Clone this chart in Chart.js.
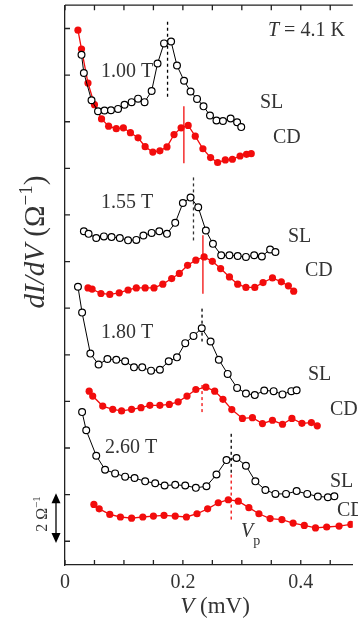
<!DOCTYPE html>
<html>
<head>
<meta charset="utf-8">
<script src="https://cdn.jsdelivr.net/npm/chart.js@4.4.1/dist/chart.umd.min.js"></script>
<style>
  html, body { margin: 0; padding: 0; background: #fff; }
  #wrap { width: 358px; height: 625px; }
</style>
</head>
<body>
<div id="wrap"><canvas id="grafico" width="358" height="625"></canvas></div>
<script>
// tensao (mV) e dI/dV com offset vertical, unidade = 1 Ohm^-1
const vSL100 = [0.028,0.032,0.045,0.056,0.067,0.078,0.090,0.101,0.113,0.124,0.135,0.147,0.157,0.168,0.180,0.190,0.202,0.213,0.224,0.235,0.246,0.257,0.268,0.281,0.292,0.299]
const gSL100 = [20.87,20.09,18.92,18.45,18.48,18.49,18.55,18.73,18.84,18.99,18.84,19.32,20.50,21.36,21.44,20.41,19.76,19.30,18.98,18.66,18.27,18.05,18.03,18.14,17.98,17.77]
const vCD100 = [0.022,0.028,0.039,0.050,0.062,0.074,0.087,0.099,0.111,0.124,0.136,0.149,0.161,0.173,0.185,0.197,0.209,0.221,0.234,0.247,0.259,0.272,0.284,0.297,0.308,0.316]
const gCD100 = [21.93,21.12,19.66,18.73,18.12,17.81,17.70,17.74,17.53,17.31,16.93,16.70,16.75,16.92,17.45,17.74,17.84,17.38,16.84,16.46,16.25,16.36,16.39,16.53,16.60,16.63]

const vSL155 = [0.032,0.040,0.053,0.066,0.079,0.093,0.107,0.121,0.133,0.147,0.160,0.173,0.187,0.200,0.213,0.226,0.239,0.251,0.265,0.279,0.293,0.307,0.321,0.334,0.348,0.357]
const gSL155 = [13.30,13.19,13.01,13.08,13.05,13.01,12.91,12.93,13.12,13.23,13.30,13.19,13.66,14.51,14.75,14.33,13.33,12.76,12.27,12.27,12.24,12.20,12.27,12.22,12.52,12.41]
const vCD155 = [0.039,0.046,0.061,0.076,0.092,0.107,0.121,0.136,0.151,0.166,0.181,0.194,0.208,0.222,0.236,0.250,0.264,0.279,0.293,0.307,0.322,0.336,0.352,0.367,0.379,0.388]
const gCD155 = [10.87,10.82,10.63,10.59,10.66,10.78,10.87,10.87,10.87,11.03,11.27,11.49,11.84,12.06,12.20,12.01,11.70,11.34,11.03,10.89,10.89,11.10,11.30,11.13,10.96,10.73]

const vSL180 = [0.022,0.029,0.043,0.057,0.072,0.087,0.102,0.117,0.131,0.146,0.161,0.176,0.190,0.204,0.218,0.232,0.247,0.261,0.276,0.292,0.307,0.322,0.338,0.354,0.369,0.384,0.393]
const gSL180 = [10.92,9.81,8.05,7.58,7.82,7.79,7.72,7.46,7.46,7.32,7.36,7.72,7.89,8.50,8.81,9.14,8.57,7.79,7.18,6.58,6.34,6.27,6.47,6.44,6.30,6.44,6.48]
const vCD180 = [0.041,0.047,0.064,0.081,0.096,0.113,0.129,0.144,0.161,0.177,0.192,0.207,0.222,0.239,0.254,0.268,0.283,0.301,0.318,0.335,0.352,0.369,0.385,0.402,0.418,0.428]
const gCD180 = [6.44,6.23,5.80,5.66,5.59,5.66,5.73,5.83,5.83,5.87,5.98,6.23,6.51,6.61,6.44,6.09,5.65,5.27,5.30,5.05,5.19,5.02,5.27,5.06,5.09,4.95]

const vSL260 = [0.029,0.036,0.053,0.068,0.085,0.102,0.118,0.136,0.153,0.169,0.187,0.204,0.222,0.240,0.257,0.274,0.291,0.307,0.323,0.340,0.357,0.375,0.393,0.411,0.429,0.446,0.457]
const gSL260 = [5.54,4.76,3.67,3.07,2.91,2.77,2.71,2.57,2.49,2.39,2.42,2.39,2.29,2.36,2.86,3.48,3.57,3.24,2.57,2.20,2.03,2.03,2.15,2.03,1.92,1.89,1.93]
const vCD260 = [0.049,0.058,0.076,0.094,0.113,0.132,0.150,0.168,0.187,0.206,0.224,0.242,0.260,0.277,0.294,0.312,0.329,0.348,0.368,0.387,0.406,0.425,0.444,0.465,0.485]
const gCD260 = [1.58,1.39,1.15,1.04,0.99,1.04,1.08,1.11,1.08,1.04,1.18,1.39,1.65,1.78,1.72,1.44,1.18,0.97,0.93,0.78,0.68,0.57,0.61,0.65,0.72]

// posicao de Vp e faixa vertical de cada marcador
const vpSL = [0.174, 0.218, 0.2325, 0.282]
const faixaSL = [[22.29, 18.95], [15.61, 12.78], [9.98, 8.57], [4.61, 2.94]]
const vpCD = [0.2017, 0.234, 0.2325, 0.282]
const faixaCD = [[18.66, 16.22], [13.13, 10.62], [6.70, 5.42], [2.86, 0.81]]
const campos = ['1.00 T', '1.55 T', '1.80 T', '2.60 T']

const xTicks = [0, 0.2, 0.4]

const serif = '"Liberation Serif", "DejaVu Serif", serif'
const vermelho = '#f20c0c'
const texto = '#333'

function serie(v, g) {
    return v.map((x, i) => ({ x: x, y: g[i] }))
}

function curvaSL(v, g) {
    return {
        data: serie(v, g), showLine: true,
        borderColor: '#000', borderWidth: 1,
        pointRadius: 3.4, pointBackgroundColor: '#fff',
        pointBorderColor: '#000', pointBorderWidth: 1.2
    }
}

function curvaCD(v, g) {
    return {
        data: serie(v, g), showLine: true,
        borderColor: vermelho, borderWidth: 1.3,
        pointRadius: 3.6, pointBackgroundColor: vermelho,
        pointBorderColor: vermelho, pointBorderWidth: 0
    }
}

function marcador(x, faixa, cor, tracejado) {
    return {
        data: [{ x: x, y: faixa[0] }, { x: x, y: faixa[1] }], showLine: true,
        borderColor: cor, borderWidth: 1.3, pointRadius: 0,
        borderDash: tracejado ? [3, 3] : []
    }
}

const datasets = [
    curvaSL(vSL100, gSL100), curvaCD(vCD100, gCD100),
    curvaSL(vSL155, gSL155), curvaCD(vCD155, gCD155),
    curvaSL(vSL180, gSL180), curvaCD(vCD180, gCD180),
    curvaSL(vSL260, gSL260), curvaCD(vCD260, gCD260),
    marcador(vpSL[0], faixaSL[0], '#000', true), marcador(vpCD[0], faixaCD[0], vermelho, false),
    marcador(vpSL[1], faixaSL[1], '#333', true), marcador(vpCD[1], faixaCD[1], vermelho, false),
    marcador(vpSL[2], faixaSL[2], '#000', true), marcador(vpCD[2], faixaCD[2], vermelho, true),
    marcador(vpSL[3], faixaSL[3], '#000', true), marcador(vpCD[3], faixaCD[3], vermelho, true)
]

// escreve partes de texto com fontes diferentes em sequencia, centradas em x=0
function textoMisto(ctx, partes) {
    let total = 0
    partes.forEach(p => { ctx.font = p[0] + serif; total += ctx.measureText(p[1]).width })
    let cx = -total / 2
    partes.forEach(p => {
        ctx.font = p[0] + serif
        ctx.fillText(p[1], cx, p[2])
        cx += ctx.measureText(p[1]).width
    })
}

// molduras, ticks para dentro e textos
const extras = {
    id: 'extras',
    afterDraw(chart) {
        const ctx = chart.ctx
        const a = chart.chartArea
        const sx = chart.scales.x, sy = chart.scales.y
        ctx.save()
        ctx.strokeStyle = '#222'
        ctx.lineWidth = 1.3
        ctx.beginPath()
        ctx.moveTo(a.left, a.top); ctx.lineTo(a.right, a.top)
        sx.ticks.forEach(t => {
            const px = sx.getPixelForValue(t.value)
            ctx.moveTo(px, a.bottom); ctx.lineTo(px, a.bottom - 5)
            ctx.moveTo(px, a.top); ctx.lineTo(px, a.top + 5)
        })
        sy.ticks.forEach(t => {
            const py = sy.getPixelForValue(t.value)
            ctx.moveTo(a.left, py); ctx.lineTo(a.left + 5, py)
        })
        ctx.stroke()

        ctx.fillStyle = texto
        ctx.textBaseline = 'middle'
        ctx.textAlign = 'left'
        ctx.font = '20px ' + serif
        const posCampo = [[101, 72], [101, 203], [101, 333], [105, 448]]
        campos.forEach((c, i) => ctx.fillText(c, posCampo[i][0], posCampo[i][1]))
        const posSL = [[260, 103], [288, 237], [308, 375], [330, 482]]
        const posCD = [[273, 138], [305, 271], [330, 410], [337, 511]]
        posSL.forEach(p => ctx.fillText('SL', p[0], p[1]))
        posCD.forEach(p => ctx.fillText('CD', p[0], p[1]))

        // T = 4.1 K
        ctx.font = 'italic 20px ' + serif
        ctx.fillText('T', 268, 31)
        let w = ctx.measureText('T').width
        ctx.font = '20px ' + serif
        ctx.fillText(' = 4.1 K', 268 + w, 31)

        // Vp
        ctx.font = 'italic 20px ' + serif
        ctx.fillText('V', 241, 532)
        w = ctx.measureText('V').width
        ctx.font = '14px ' + serif
        ctx.fillText('p', 241 + w, 541)

        // titulo x
        ctx.textBaseline = 'alphabetic'
        ctx.save()
        ctx.translate(215, 613)
        textoMisto(ctx, [['italic 23px ', 'V', 0], ['23px ', ' (mV)', 0]])
        ctx.restore()

        // titulo y girado
        ctx.save()
        ctx.translate(44, 242)
        ctx.rotate(-Math.PI / 2)
        textoMisto(ctx, [
            ['italic 29px ', 'dI/dV', 0],
            ['29px ', ' (\u03A9', 0],
            ['19px ', '\u22121', -12],
            ['29px ', ')', 0]
        ])
        ctx.restore()

        // barra de escala 2 Ohm^-1
        const yA = sy.getPixelForValue(0) + 1.7
        const yB = sy.getPixelForValue(2) - 1.3
        ctx.strokeStyle = '#000'
        ctx.fillStyle = '#000'
        ctx.lineWidth = 1.3
        ctx.beginPath()
        ctx.moveTo(56, yA - 8); ctx.lineTo(56, yB + 8)
        ctx.stroke()
        ctx.beginPath()
        ctx.moveTo(56, yB); ctx.lineTo(51.5, yB + 10); ctx.lineTo(60.5, yB + 10); ctx.closePath()
        ctx.moveTo(56, yA); ctx.lineTo(51.5, yA - 10); ctx.lineTo(60.5, yA - 10); ctx.closePath()
        ctx.fill()

        ctx.fillStyle = texto
        ctx.save()
        ctx.translate(47, 514)
        ctx.rotate(-Math.PI / 2)
        textoMisto(ctx, [['16px ', '2 \u03A9', 0], ['11px ', '\u22121', -7]])
        ctx.restore()
        ctx.restore()
    }
}

const ctx = document.getElementById('grafico')
const grafico = new Chart(ctx, {
    type: 'scatter',
    data: { datasets: datasets },
    plugins: [extras],
    options: {
        responsive: false,
        animation: false,
        devicePixelRatio: 1,
        layout: { padding: { top: 2, right: 0, bottom: 0, left: 0 } },
        plugins: { legend: { display: false }, tooltip: { enabled: false } },
        scales: {
            x: {
                type: 'linear', min: 0, max: 0.4883,
                afterFit: s => { s.height = 60 },
                grid: { display: false, drawTicks: false },
                border: { display: true, color: '#222', width: 1.3 },
                ticks: {
                    stepSize: 0.05, includeBounds: false, autoSkip: false, maxRotation: 0,
                    padding: 6, color: texto,
                    font: { family: serif, size: 20 },
                    callback: v => xTicks.some(t => Math.abs(t - v) < 1e-6) ? (v === 0 ? '0' : v.toFixed(1)) : ''
                }
            },
            y: {
                type: 'linear', min: -1.02, max: 23.0,
                afterFit: s => { s.width = 65 },
                grid: { display: false, drawTicks: false },
                border: { display: true, color: '#222', width: 1.3 },
                ticks: { stepSize: 2, includeBounds: false, display: false }
            }
        }
    }
})
</script>
</body>
</html>
